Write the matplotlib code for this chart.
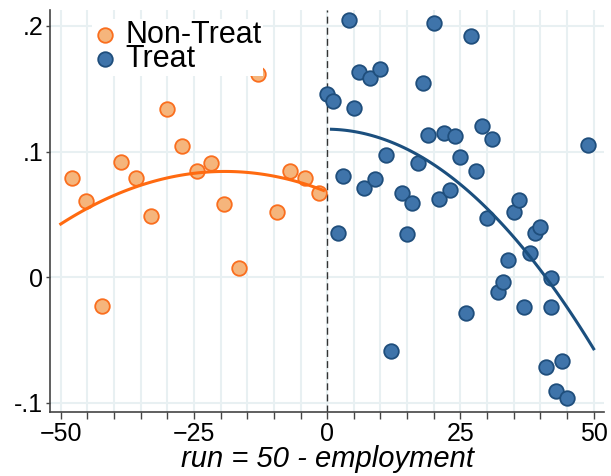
import numpy as np
import matplotlib
matplotlib.use("Agg")
import matplotlib.pyplot as plt
from matplotlib.ticker import MultipleLocator, FixedLocator

plt.rcParams['font.family'] = ['Liberation Sans', 'DejaVu Sans']

# binned means
nontreat_x = [-47.9, -45.2, -42.3, -38.7, -35.9, -33.1, -30.0, -27.2, -24.5,
              -21.8, -19.4, -16.6, -12.9, -9.4, -7.0, -4.2, -1.5]
nontreat_y = [0.079, 0.0606, -0.0231, 0.0914, 0.0786, 0.0486, 0.1336, 0.104,
              0.0842, 0.0906, 0.058, 0.0074, 0.1618, 0.0518, 0.0845, 0.0786, 0.0672]

treat_x = [0, 1, 2, 3, 4, 5, 6, 7, 8, 9, 10, 11, 12, 14, 15, 16, 17, 18, 19, 20,
           21, 22, 23, 24, 25, 26, 27, 28, 29, 30, 31, 32, 33, 34, 35, 36, 37, 38,
           39, 40, 41, 42, 42, 43, 44, 45, 49]
treat_y = [0.1458, 0.1405, 0.0348, 0.0805, 0.2048, 0.1349, 0.1633, 0.0712, 0.1588,
           0.0778, 0.1655, 0.0972, -0.059, 0.0672, 0.0343, 0.0592, 0.0911, 0.1546,
           0.1131, 0.2026, 0.0619, 0.1150, 0.0693, 0.1124, 0.0954, -0.0289, 0.1923,
           0.0847, 0.1203, 0.0468, 0.1100, -0.0122, -0.0042, 0.0135, 0.0516, 0.0614,
           -0.0242, 0.0194, 0.0348, 0.0401, -0.0715, -0.001, -0.0242, -0.0908,
           -0.0672, -0.0959, 0.1049]

x_ticks = [-50, -25, 0, 25, 50]
y_ticks = [-0.1, 0, 0.1, 0.2]
y_tick_labels = ['-.1', '0', '.1', '.2']

orange_fill, orange_edge = '#F5B57C', '#FA6E1E'
blue_fill, blue_edge = '#3F74AA', '#1F4E7C'

fig, ax = plt.subplots(figsize=(6.11, 4.76), dpi=100)
fig.subplots_adjust(left=0.082, right=0.989, top=0.979, bottom=0.134)

ax.set_xlim(-52, 52)
ax.set_ylim(-0.1076, 0.2127)

ax.xaxis.set_major_locator(FixedLocator(x_ticks))
ax.xaxis.set_minor_locator(MultipleLocator(5))
ax.yaxis.set_major_locator(FixedLocator(y_ticks))
ax.set_yticklabels(y_tick_labels)

ax.grid(True, which='minor', axis='x', color='#E8F0F2', lw=1.5, zorder=0)
ax.grid(True, which='major', axis='both', color='#E8F0F2', lw=1.5, zorder=0)
ax.set_axisbelow(True)

for s in ['top', 'right']:
    ax.spines[s].set_visible(False)
for s in ['left', 'bottom']:
    ax.spines[s].set_color('#444444')
    ax.spines[s].set_linewidth(1.2)

ax.tick_params(axis='x', which='both', length=5, width=1, color='#444444',
               labelsize=18, pad=2)
ax.tick_params(axis='y', which='major', length=3, width=1, color='#444444',
               labelsize=18, pad=2)

ax.axvline(0, color='#333333', lw=1, ls=(0, (5, 3)), zorder=1)

# quadratic fits on each side
cn = np.polyfit(nontreat_x, nontreat_y, 2)
ct = np.polyfit(treat_x, treat_y, 2)
xn = np.linspace(-50, -0.7, 100)
xt = np.linspace(0.8, 50, 100)

ax.scatter(nontreat_x, nontreat_y, s=110, c=orange_fill, edgecolors=orange_edge,
           linewidths=1.3, zorder=3, label='Non-Treat')
ax.scatter(treat_x, treat_y, s=110, c=blue_fill, edgecolors=blue_edge,
           linewidths=1.3, zorder=3, label='Treat')
ax.plot(xn, np.polyval(cn, xn), color='#FF6A10', lw=2.2, zorder=4)
ax.plot(xt, np.polyval(ct, xt), color='#1B4F7E', lw=2.2, zorder=4)

ax.set_xlabel('run = 50 - employment', fontsize=21, style='italic', labelpad=-1)

leg = ax.legend(loc='upper left', bbox_to_anchor=(0.075, 0.978), fontsize=22,
                frameon=True, framealpha=1, edgecolor='none', fancybox=False,
                handletextpad=0.25, labelspacing=-0.2, borderpad=0.05,
                markerscale=1.0, handlelength=0.8, borderaxespad=0)
leg.set_zorder(5)

fig.savefig('out.png', dpi=100)
